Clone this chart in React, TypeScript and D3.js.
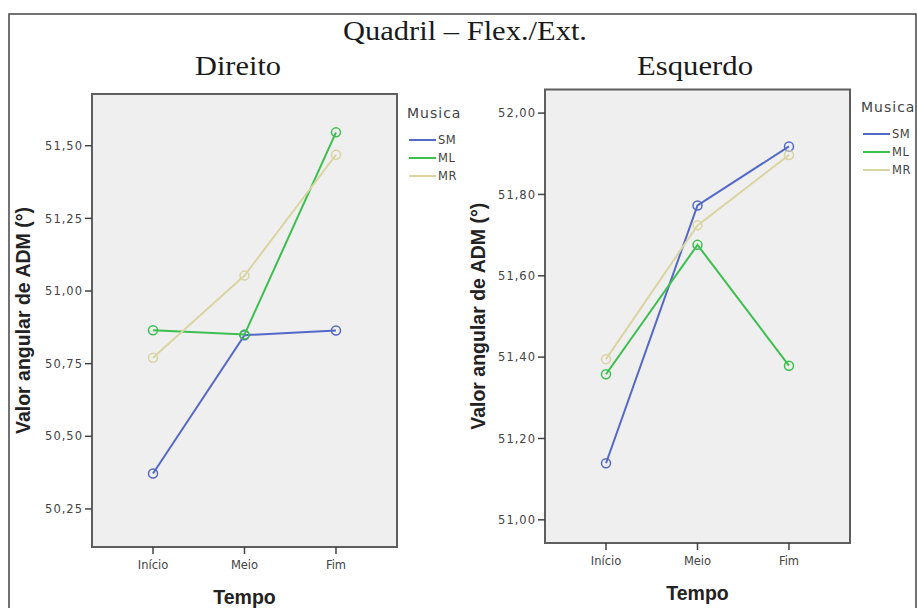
import React from "react";
import * as d3 from "d3";

const categories = ["Início", "Meio", "Fim"];
const seriesNames = ["SM", "ML", "MR"];
const seriesColors = ["#5468c8", "#3cbf4e", "#d9d4a3"];

const direitoSM = [50.372, 50.848, 50.864];
const direitoML = [50.865, 50.85, 51.546];
const direitoMR = [50.77, 51.053, 51.469];

const esquerdoSM = [51.139, 51.773, 51.918];
const esquerdoML = [51.358, 51.676, 51.379];
const esquerdoMR = [51.395, 51.724, 51.897];

const direitoTicks = [50.25, 50.5, 50.75, 51.0, 51.25, 51.5];
const esquerdoTicks = [51.0, 51.2, 51.4, 51.6, 51.8, 52.0];

const fmt = (v: number) => v.toFixed(2).replace(".", ",");

const serif = "'Liberation Serif', 'Times New Roman', serif";
const sans = "'Liberation Sans', Arial, sans-serif";
const wide = "'DejaVu Sans', sans-serif";

type PanelProps = {
  title: string;
  titleX: number;
  titleW: number;
  box: { x0: number; y0: number; x1: number; y1: number };
  domain: [number, number];
  ticks: number[];
  series: number[][];
  legendX: number;
  legendY: number;
  ylabelX: number;
};

function Panel(p: PanelProps) {
  const { box } = p;
  const x = d3.scalePoint<string>().domain(categories).range([box.x0, box.x1]).padding(0.667);
  const y = d3.scaleLinear().domain(p.domain).range([box.y1, box.y0]);
  const line = d3
    .line<number>()
    .x((_, i) => x(categories[i]) as number)
    .y((d) => y(d));
  return (
    <g>
      <text
        x={p.titleX}
        y={75}
        textAnchor="middle"
        fontFamily={serif}
        fontSize={28}
        textLength={p.titleW}
        lengthAdjust="spacingAndGlyphs"
        fill="#1a1a1a"
      >
        {p.title}
      </text>
      <rect x={box.x0} y={box.y0} width={box.x1 - box.x0} height={box.y1 - box.y0} fill="#efefef" stroke="#5e5e5e" strokeWidth={2} />
      {p.ticks.map((t) => (
        <g key={t}>
          <line x1={box.x0 - 7} x2={box.x0} y1={y(t)} y2={y(t)} stroke="#444" strokeWidth={1.5} />
          <text x={box.x0 - 9} y={y(t)} dy="0.36em" textAnchor="end" fontFamily={wide} fontSize={11.5} fill="#444" letterSpacing={1}>
            {fmt(t)}
          </text>
        </g>
      ))}
      {categories.map((c) => (
        <g key={c}>
          <line x1={x(c)} x2={x(c)} y1={box.y1} y2={box.y1 + 7} stroke="#444" strokeWidth={1.5} />
          <text x={x(c)} y={box.y1 + 22} textAnchor="middle" fontFamily={wide} fontSize={11.5} fill="#444">
            {c}
          </text>
        </g>
      ))}
      <text
        x={(box.x0 + box.x1) / 2}
        y={box.y1 + 57}
        textAnchor="middle"
        fontFamily={sans}
        fontWeight="bold"
        fontSize={19.5}
        fill="#222"
      >
        Tempo
      </text>
      <text
        transform={`translate(${p.ylabelX},${(box.y0 + box.y1) / 2}) rotate(-90)`}
        textAnchor="middle"
        dy="0.36em"
        fontFamily={sans}
        fontWeight="bold"
        fontSize={19.5}
        fill="#222"
      >
        Valor angular de ADM (°)
      </text>
      {p.series.map((s, si) => (
        <g key={si}>
          <path d={line(s) || ""} fill="none" stroke={seriesColors[si]} strokeWidth={2} />
          {s.map((v, i) => (
            <circle key={i} cx={x(categories[i])} cy={y(v)} r={4.5} fill="none" stroke={seriesColors[si]} strokeWidth={1.5} />
          ))}
        </g>
      ))}
      <text x={p.legendX} y={p.legendY} fontFamily={wide} fontSize={14} fill="#444" dy="0.36em" letterSpacing={1}>
        Musica
      </text>
      {seriesNames.map((n, i) => (
        <g key={n}>
          <line
            x1={p.legendX + 2}
            x2={p.legendX + 29}
            y1={p.legendY + 27 + i * 18}
            y2={p.legendY + 27 + i * 18}
            stroke={seriesColors[i]}
            strokeWidth={2}
          />
          <text x={p.legendX + 31} y={p.legendY + 27 + i * 18} dy="0.36em" fontFamily={wide} fontSize={11.5} fill="#444" letterSpacing={0.5}>
            {n}
          </text>
        </g>
      ))}
    </g>
  );
}

export default function App() {
  return (
    <svg width={917} height={608} style={{ position: "absolute", left: 0, top: 0, background: "#fff" }}>
      <rect x={9} y={14} width={907} height={610} fill="#fff" stroke="#444" strokeWidth={1.5} />
      <text
        x={465}
        y={40}
        textAnchor="middle"
        fontFamily={serif}
        fontSize={28}
        textLength={244}
        lengthAdjust="spacingAndGlyphs"
        fill="#1a1a1a"
      >
        Quadril – Flex./Ext.
      </text>
      <Panel
        title="Direito"
        titleX={238}
        titleW={86}
        box={{ x0: 92, y0: 94, x1: 397, y1: 547 }}
        domain={[50.119, 51.678]}
        ticks={direitoTicks}
        series={[direitoSM, direitoML, direitoMR]}
        legendX={407}
        legendY={113}
        ylabelX={23}
      />
      <Panel
        title="Esquerdo"
        titleX={695}
        titleW={116}
        box={{ x0: 545, y0: 89.5, x1: 850, y1: 543 }}
        domain={[50.943, 52.058]}
        ticks={esquerdoTicks}
        series={[esquerdoSM, esquerdoML, esquerdoMR]}
        legendX={861}
        legendY={107}
        ylabelX={478}
      />
    </svg>
  );
}
